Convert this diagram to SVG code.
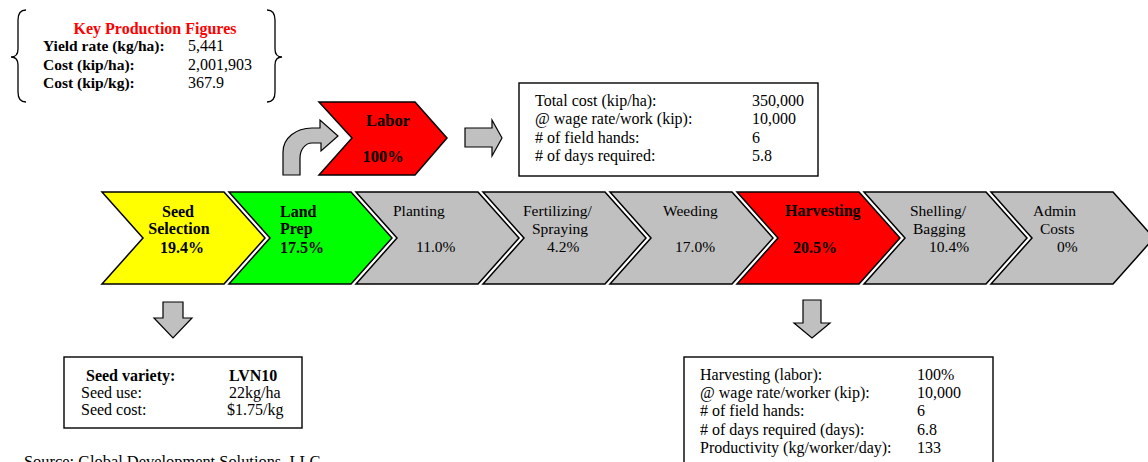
<svg xmlns="http://www.w3.org/2000/svg" width="1148" height="462" viewBox="0 0 1148 462">
  <style>
    text { font-family: "Liberation Serif", "Times New Roman", serif; font-size: 15.5px; fill: #000; }
    .b { font-weight: bold; font-size: 16px; }
    .lab { font-weight: bold; font-size: 16.5px; }
    .t { font-size: 16px; }
    .k { font-size: 15.5px; font-weight: bold; }
    .title { font-size: 16px; font-weight: bold; fill: #FF0000; }
    .src { font-size: 16.4px; }
    .chev { stroke: #000; stroke-width: 1.5; stroke-linejoin: miter; }
    .box { fill: #fff; stroke: #000; stroke-width: 1.4; }
    .arrow { fill: #C0C0C0; stroke: #000; stroke-width: 1.2; stroke-linejoin: miter; }
    .brace { fill: none; stroke: #000; stroke-width: 1.3; }
  </style>
  <defs>
    <!-- one chevron step: 122 wide along the top, 41 deep point -->
    <polygon id="chevron" points="0,0 122,0 163,46 122,92 0,92 41,46"/>
  </defs>

  <!-- key production figures in braces -->
  <g id="key-figures">
    <path class="brace" d="M26,10 Q18,10 18,20 L18,49 Q18,57 11,57 Q18,57 18,65 L18,92 Q18,102 26,102"/>
    <path class="brace" d="M267,10 Q275,10 275,20 L275,49 Q275,57 282,57 Q275,57 275,65 L275,92 Q275,102 267,102"/>
    <text class="title" x="155" y="34" text-anchor="middle">Key Production Figures</text>
    <text class="k" x="43" y="51">Yield rate (kg/ha):</text>
    <text class="t" x="188" y="51">5,441</text>
    <text class="k" x="43" y="70">Cost (kip/ha):</text>
    <text class="t" x="188" y="70">2,001,903</text>
    <text class="k" x="43" y="88">Cost (kip/kg):</text>
    <text class="t" x="188" y="88">367.9</text>
  </g>

  <!-- labor step -->
  <g id="labor">
    <polygon class="chev" fill="#FF0000" points="319,102 415,102 447,138 415,175 319,175 352,138"/>
    <text class="lab" x="388" y="126" text-anchor="middle">Labor</text>
    <text class="lab" x="383" y="162" text-anchor="middle">100%</text>
  </g>

  <!-- labor cost details -->
  <g id="labor-box">
    <rect class="box" x="519" y="83" width="299" height="93"/>
    <text class="t" x="535" y="106">Total cost (kip/ha):</text>
    <text class="t" x="752" y="106">350,000</text>
    <text class="t" x="535" y="124">@ wage rate/work (kip):</text>
    <text class="t" x="752" y="124">10,000</text>
    <text class="t" x="535" y="143">#  of field hands:</text>
    <text class="t" x="752" y="143">6</text>
    <text class="t" x="535" y="161">#  of days required:</text>
    <text class="t" x="752" y="161">5.8</text>
  </g>

  <!-- production chain -->
  <g id="seed-selection">
    <use href="#chevron" x="102" y="192" class="chev" fill="#FFFF00"/>
    <text class="b" x="178" y="217" text-anchor="middle">Seed</text>
    <text class="b" x="179" y="234" text-anchor="middle">Selection</text>
    <text class="b" x="182" y="253" text-anchor="middle">19.4%</text>
  </g>
  <g id="land-prep">
    <use href="#chevron" x="229" y="192" class="chev" fill="#00FF00"/>
    <text class="b" x="280" y="217">Land</text>
    <text class="b" x="280" y="234">Prep</text>
    <text class="b" x="280" y="253">17.5%</text>
  </g>
  <g id="planting">
    <use href="#chevron" x="356" y="192" class="chev" fill="#C0C0C0"/>
    <text x="393" y="216">Planting</text>
    <text x="416" y="252">11.0%</text>
  </g>
  <g id="fertilizing">
    <use href="#chevron" x="483" y="192" class="chev" fill="#C0C0C0"/>
    <text x="523" y="216">Fertilizing/</text>
    <text x="532" y="234">Spraying</text>
    <text x="547" y="252">4.2%</text>
  </g>
  <g id="weeding">
    <use href="#chevron" x="610" y="192" class="chev" fill="#C0C0C0"/>
    <text x="663" y="216">Weeding</text>
    <text x="675" y="252">17.0%</text>
  </g>
  <g id="harvesting">
    <use href="#chevron" x="737" y="192" class="chev" fill="#FF0000"/>
    <text class="b" x="785" y="216">Harvesting</text>
    <text class="b" x="793" y="253">20.5%</text>
  </g>
  <g id="shelling">
    <use href="#chevron" x="864" y="192" class="chev" fill="#C0C0C0"/>
    <text x="910" y="216">Shelling/</text>
    <text x="913" y="234">Bagging</text>
    <text x="929" y="252">10.4%</text>
  </g>
  <g id="admin">
    <use href="#chevron" x="991" y="192" class="chev" fill="#C0C0C0"/>
    <text x="1033" y="216">Admin</text>
    <text x="1040" y="234">Costs</text>
    <text x="1057" y="252">0%</text>
  </g>

  <!-- seed details -->
  <g id="seed-box">
    <rect class="box" x="64" y="357" width="238" height="71"/>
    <text class="b" x="86" y="381">Seed variety:</text>
    <text class="b" x="229" y="381">LVN10</text>
    <text class="t" x="81" y="398">Seed use:</text>
    <text class="t" x="229" y="398">22kg/ha</text>
    <text class="t" x="81" y="415">Seed cost:</text>
    <text class="t" x="227" y="415">$1.75/kg</text>
  </g>

  <!-- harvesting details -->
  <g id="harvest-box">
    <rect class="box" x="684" y="357" width="309" height="120"/>
    <text class="t" x="700" y="380">Harvesting (labor):</text>
    <text class="t" x="917" y="380">100%</text>
    <text class="t" x="700" y="398">@ wage rate/worker (kip):</text>
    <text class="t" x="917" y="398">10,000</text>
    <text class="t" x="700" y="416">#  of field hands:</text>
    <text class="t" x="917" y="416">6</text>
    <text class="t" x="700" y="435">#  of days required (days):</text>
    <text class="t" x="917" y="435">6.8</text>
    <text class="t" x="700" y="453">Productivity (kg/worker/day):</text>
    <text class="t" x="917" y="453">133</text>
  </g>

  <!-- block arrows -->
  <g id="connectors">
    <path class="arrow" d="M283,175 L283,152 C283,138 296,128 312,128 L320,128 L320,120 L338,136 L321,151 L321,143 L312,143 C305,143 300,150 300,158 L300,175 Z"/>
    <path class="arrow" d="M465,128 L492,128 L492,120 L502,138 L492,156 L492,147 L465,147 Z"/>
    <path class="arrow" d="M163,302 L183,302 L183,318 L192,318 L173,338 L154,318 L163,318 Z"/>
    <path class="arrow" d="M803,300 L821,300 L821,323 L830,323 L812,338 L794,323 L803,323 Z"/>
  </g>

  <text class="src" x="24" y="467">Source:  Global Development Solutions, LLC</text>
</svg>
